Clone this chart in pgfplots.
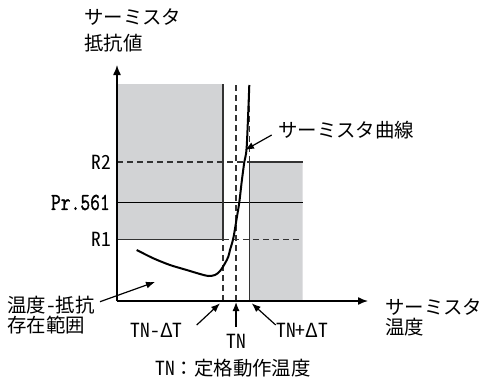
\documentclass[border=0pt]{standalone}
\usepackage{fontspec}
\usepackage{pgfplots}
\pgfplotsset{compat=1.18}
\usetikzlibrary{arrows.meta}
\IfFontExistsTF{Noto Sans Mono CJK JP}
  {\setmainfont{Noto Sans Mono CJK JP}}
  {\setmainfont{Noto Sans CJK JP}}
\newfontfamily\prfont{Latin Modern Mono}[FakeStretch=0.78, FakeBold=1.2]
\definecolor{grayfill}{HTML}{D2D3D5}
\definecolor{edge}{HTML}{333333}
\tikzset{
  lbl/.style={inner sep=0pt, font=\fontsize{19.5}{23}\selectfont},
  ann/.style={line width=1.2bp, -{Latex[length=9bp,width=7bp]}},
}

\begin{document}
\begin{tikzpicture}[x=1bp,y=1bp]
\useasboundingbox (0,0) rectangle (483,383);
\begin{axis}[
    at={(117bp,82bp)}, anchor=south west,
    x=1bp, y=1bp,
    xmin=0, xmax=251, ymin=0, ymax=236,
    axis lines=left,
    axis line style={line width=1.4bp, black, -{Latex[length=10bp,width=8bp]}},
    xtick=\empty, ytick=\empty,
    clip=false, axis on top,
]
% shaded regions
\addplot[fill=grayfill, draw=none] coordinates {(0,61.7) (106,61.7) (106,217) (0,217) (0,61.7)};
\addplot[fill=grayfill, draw=none] coordinates {(132.5,0) (185.5,0) (185.5,139) (132.5,139) (132.5,0)};

% horizontal levels
\addplot[edge, line width=1.1bp, dash pattern=on 6bp off 4bp] coordinates {(0,139) (132.5,139)};
\addplot[edge, line width=1.1bp] coordinates {(132.5,139) (185.5,139)};
\addplot[black, line width=1.1bp] coordinates {(0,98.5) (185.5,98.5)};
\addplot[edge, line width=1.1bp] coordinates {(0,61.7) (106,61.7)};
\addplot[edge, line width=1.1bp, dash pattern=on 6bp off 4bp] coordinates {(106,61.7) (185.5,61.7)};

% vertical limits
\addplot[edge, line width=1.3bp] coordinates {(106,61.7) (106,217)};
\addplot[edge, line width=1.1bp, dash pattern=on 6bp off 4bp] coordinates {(106,0) (106,61.7)};
\addplot[edge, line width=1.1bp, dash pattern=on 6bp off 4bp] coordinates {(119,0) (119,217)};
\addplot[edge, line width=1.1bp, dash pattern=on 6bp off 4bp] coordinates {(132.5,139) (132.5,217)};
\addplot[edge, line width=1.1bp] coordinates {(132.5,0) (132.5,139)};

% thermistor curve
\addplot[black, line width=2bp, smooth] coordinates {
  (19.7,51) (36.3,42.7) (53,36) (69.7,31) (83,27) (91.3,25) (98,26)
  (103,30) (108,37.7) (111.3,44.3) (113,51) (116.3,62.7) (119.7,82.7)
  (122.3,98.7) (124.7,119.3) (127.3,139) (129.7,154.3) (132.3,216)};

% labels
\node[lbl, anchor=west] at (axis cs:-33,284) {サーミスタ};
\node[lbl, anchor=west] at (axis cs:-33,258) {抵抗値};
\node[lbl, anchor=west] at (axis cs:161,171) {サーミスタ曲線};
\draw[ann] (axis cs:154.7,166) -- (axis cs:128,151);
\node[lbl, anchor=east] at (axis cs:-6,139) {R2};
\node[inner sep=0pt, anchor=east] at (axis cs:-7,98.5) {\prfont\fontsize{24.5}{28}\selectfont Pr.561};
\node[lbl, anchor=east] at (axis cs:-6,61.7) {R1};
\node[lbl, anchor=west] at (axis cs:-110,-4) {温度-抵抗};
\node[lbl, anchor=west] at (axis cs:-110,-24) {存在範囲};
\draw[ann] (axis cs:-17,-0.7) -- (axis cs:38,19);
\node[lbl] at (axis cs:39.7,-29) {TN-ΔT};
\draw[ann] (axis cs:79.7,-24) -- (axis cs:103,-2.3);
\node[lbl] at (axis cs:119,-40.7) {TN};
\draw[ann] (axis cs:119,-26) -- (axis cs:119,-1);
\node[lbl] at (axis cs:185.3,-29) {TN+ΔT};
\draw[ann] (axis cs:158.7,-24) -- (axis cs:134.7,-2.3);
\node[lbl, anchor=west] at (axis cs:268,-5.7) {サーミスタ};
\node[lbl, anchor=west] at (axis cs:268,-25.7) {温度};
\node[lbl] at (axis cs:116,-66.7) {TN：定格動作温度};
\end{axis}
\end{tikzpicture}
\end{document}
